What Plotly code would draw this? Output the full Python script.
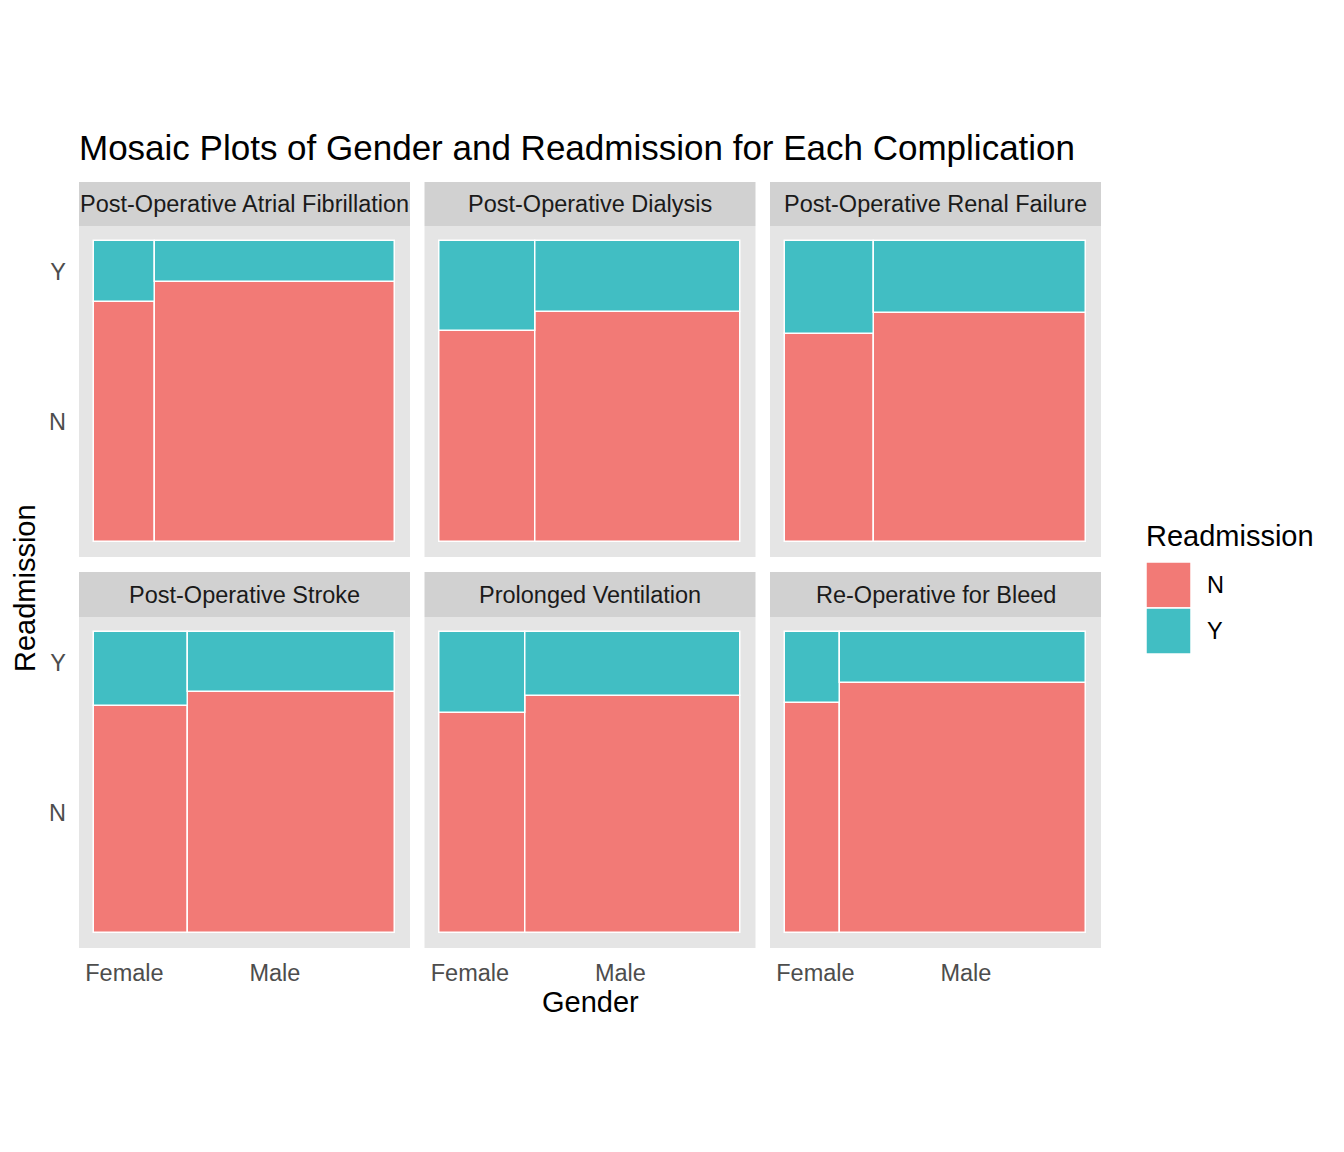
import plotly.graph_objects as go

# --- data (shares per facet) ---
complications = [
    "Post-Operative Atrial Fibrillation",
    "Post-Operative Dialysis",
    "Post-Operative Renal Failure",
    "Post-Operative Stroke",
    "Prolonged Ventilation",
    "Re-Operative for Bleed",
]
genders = ["Female", "Male"]
readmission_levels = ["N", "Y"]
female_share = [0.202, 0.319, 0.297, 0.311, 0.287, 0.181]
readmit_female = [0.201, 0.299, 0.308, 0.245, 0.269, 0.237]
readmit_male = [0.137, 0.236, 0.238, 0.200, 0.213, 0.168]

colors = {"N": "#F27A76", "Y": "#41BEC3"}

W, H = 1344, 1152
OFF = 8  # page body margin shifts the figure by 8px


def px_x(x):
    return (x - OFF) / W


def px_y(y):
    return 1 - (y - OFF) / H


col_px = [(79, 410), (424.5, 755.5), (770, 1101)]
row_px = [(226, 557), (617, 948)]        # panel areas
strip_px = [(182, 226), (572, 617)]      # strip areas
rng = [-0.05, 1.05]

fig = go.Figure()
shapes, annotations = [], []
layout_axes = {}

for i, name in enumerate(complications):
    r, c = divmod(i, 3)
    ax = "" if i == 0 else str(i + 1)
    fs = female_share[i]
    rates = [readmit_female[i], readmit_male[i]]
    centers = [fs / 2, fs + (1 - fs) / 2]
    widths = [fs, 1 - fs]

    # N at the bottom, Y stacked on top
    fig.add_trace(go.Bar(
        x=centers, width=widths, base=[0, 0], y=[1 - p for p in rates],
        marker=dict(color=colors["N"], line=dict(color="white", width=1.5)),
        name="N", showlegend=False, xaxis="x" + ax, yaxis="y" + ax,
        hoverinfo="skip",
    ))
    fig.add_trace(go.Bar(
        x=centers, width=widths, base=[1 - p for p in rates], y=rates,
        marker=dict(color=colors["Y"], line=dict(color="white", width=1.5)),
        name="Y", showlegend=False, xaxis="x" + ax, yaxis="y" + ax,
        hoverinfo="skip",
    ))

    x0, x1 = col_px[c]
    y0, y1 = row_px[r]
    # tick positions come from the first panel, as ggmosaic does
    fs0 = female_share[0]
    rf0 = readmit_female[0]
    layout_axes["xaxis" + ax] = dict(
        domain=[px_x(x0), px_x(x1)], range=rng, anchor="y" + ax,
        showgrid=False, zeroline=False, ticks="", fixedrange=True,
        tickvals=[fs0 / 2, fs0 + (1 - fs0) / 2], ticktext=genders,
        showticklabels=(r == 1), ticklabelstandoff=8,
        tickfont=dict(size=23.5, color="#4D4D4D"),
    )
    layout_axes["yaxis" + ax] = dict(
        domain=[px_y(y1), px_y(y0)], range=rng, anchor="x" + ax,
        showgrid=False, zeroline=False, ticks="", fixedrange=True,
        tickvals=[(1 - rf0) / 2, 1 - rf0 / 2], ticktext=readmission_levels,
        showticklabels=(c == 0), ticklabelstandoff=12,
        tickfont=dict(size=23.5, color="#4D4D4D"),
    )

    sy0, sy1 = strip_px[r]
    shapes.append(dict(type="rect", xref="paper", yref="paper",
                       x0=px_x(x0), x1=px_x(x1), y0=px_y(sy1), y1=px_y(sy0),
                       fillcolor="#D1D1D1", line=dict(width=0), layer="below"))
    annotations.append(dict(text=name, xref="paper", yref="paper",
                            x=px_x((x0 + x1) / 2), y=px_y((sy0 + sy1) / 2),
                            xanchor="center", yanchor="middle", showarrow=False,
                            font=dict(size=23.5, color="#1A1A1A")))

# axis titles
annotations.append(dict(text="Gender", xref="paper", yref="paper",
                        x=px_x(590), y=px_y(1002), xanchor="center", yanchor="middle",
                        showarrow=False, font=dict(size=29, color="black")))
annotations.append(dict(text="Readmission", xref="paper", yref="paper",
                        x=px_x(25), y=px_y(588), xanchor="center", yanchor="middle",
                        textangle=-90, showarrow=False, font=dict(size=29, color="black")))

# legend (drawn by hand to get ggplot-sized keys)
annotations.append(dict(text="Readmission", xref="paper", yref="paper",
                        x=px_x(1144), y=px_y(536), xanchor="left", yanchor="middle",
                        showarrow=False, font=dict(size=29, color="black")))
for k, lvl in enumerate(readmission_levels):
    ky0 = 562 + 46 * k
    shapes.append(dict(type="rect", xref="paper", yref="paper",
                       x0=px_x(1146), x1=px_x(1191), y0=px_y(ky0 + 46), y1=px_y(ky0),
                       fillcolor=colors[lvl], line=dict(color="white", width=1.5)))
    annotations.append(dict(text=lvl, xref="paper", yref="paper",
                            x=px_x(1205), y=px_y(ky0 + 23), xanchor="left", yanchor="middle",
                            showarrow=False, font=dict(size=23.5, color="black")))

fig.update_layout(
    width=W, height=H,
    margin=dict(l=0, r=0, t=0, b=0),
    paper_bgcolor="white", plot_bgcolor="#E5E5E5",
    barmode="overlay", bargap=0,
    font=dict(family="Liberation Sans, Arial, sans-serif"),
    title=dict(text="Mosaic Plots of Gender and Readmission for Each Complication",
               x=px_x(79), xanchor="left", y=px_y(148), yanchor="middle",
               font=dict(size=35, color="black")),
    shapes=shapes, annotations=annotations,
    showlegend=False,
    **layout_axes,
)

fig.write_html("out.html")
